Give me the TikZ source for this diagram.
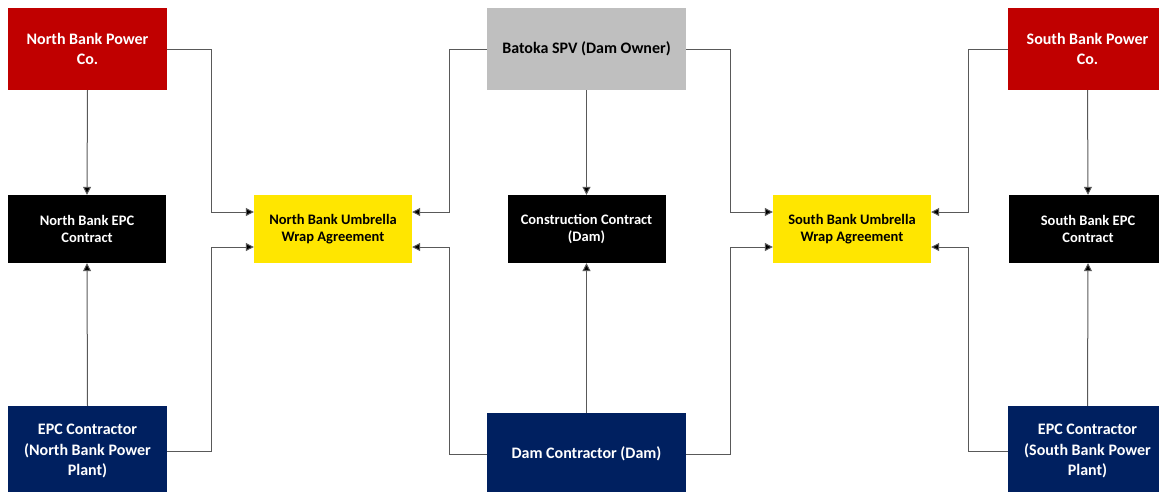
\documentclass[tikz,border=0pt]{standalone}
\usepackage{fontspec}
\setmainfont{Carlito}
\usetikzlibrary{arrows.meta,calc}
\definecolor{cred}{HTML}{C00000}
\definecolor{cgray}{HTML}{BFBFBF}
\definecolor{cyellow}{HTML}{FFE600}
\definecolor{cnavy}{HTML}{002060}
\definecolor{cline}{HTML}{595959}
\tikzset{
  box/.style={rectangle, inner sep=0pt, align=center, font=\bfseries\fontsize{16}{20.5}\selectfont},
  midbox/.style={rectangle, inner sep=0pt, align=center, minimum width=158, minimum height=68, font=\bfseries\fontsize{14.5}{17}\selectfont},
  redbox/.style={box, fill=cred, text=white, minimum width=159, minimum height=82},
  graybox/.style={box, fill=cgray, text=black, minimum width=199, minimum height=82},
  blackbox/.style={midbox, fill=black, text=white},
  yellowbox/.style={midbox, fill=cyellow, text=black},
  navybox/.style={box, fill=cnavy, text=white},
  conn/.style={draw=cline, line width=1pt},
  arr/.style={conn, -{Triangle[length=8pt,width=8pt,fill=black]}}
}
\begin{document}
\begin{tikzpicture}[x=1pt,y=-1pt]
\useasboundingbox (0,0) rectangle (1159,491);
\clip (0,0) rectangle (1159,491);
% top row
\node[redbox] (nbpc) at (87.5,49) {North Bank Power\\Co.};
\node[graybox] (spv) at (586.5,49) {Batoka SPV (Dam Owner)};
\node[redbox] (sbpc) at (1087.5,49) {South Bank Power\\Co.};
% middle row
\node[blackbox] (nbepc) at (87,229) {North Bank EPC\\Contract};
\node[yellowbox] (nbu) at (333,229) {North Bank Umbrella\\Wrap Agreement};
\node[blackbox] (cc) at (586.5,229) {Construction Contract\\(Dam)};
\node[yellowbox] (sbu) at (852,229) {South Bank Umbrella\\Wrap Agreement};
\node[blackbox] (sbepc) at (1088,229) {South Bank EPC\\Contract};
% bottom row
\node[navybox, minimum width=159, minimum height=90] (nbc) at (87.5,451) {EPC Contractor\\(North Bank Power\\Plant)};
\node[navybox, minimum width=199, minimum height=82] (dc) at (586.5,454) {Dam Contractor (Dam)};
\node[navybox, minimum width=159, minimum height=90] (sbc) at (1087.5,451) {EPC Contractor\\(South Bank Power\\Plant)};
% vertical connectors
\draw[arr] (nbpc.south) -- (nbepc.north);
\draw[arr] (nbc.north) -- (nbepc.south);
\draw[arr] (spv.south) -- (cc.north);
\draw[arr] (dc.north) -- (cc.south);
\draw[arr] (sbpc.south) -- (sbepc.north);
\draw[arr] (sbc.north) -- (sbepc.south);
% umbrella connectors
\draw[arr] (nbpc.east) -- ++(44,0) |- ($(nbu.west)+(0,-17)$);
\draw[arr] (nbc.east) -- ++(44,0) |- ($(nbu.west)+(0,18)$);
\draw[arr] (spv.west) -- ++(-37,0) |- ($(nbu.east)+(0,-17)$);
\draw[arr] (dc.west) -- ++(-37,0) |- ($(nbu.east)+(0,18)$);
\draw[arr] (spv.east) -- ++(44,0) |- ($(sbu.west)+(0,-17)$);
\draw[arr] (dc.east) -- ++(44,0) |- ($(sbu.west)+(0,18)$);
\draw[arr] (sbpc.west) -- ++(-39,0) |- ($(sbu.east)+(0,-17)$);
\draw[arr] (sbc.west) -- ++(-39,0) |- ($(sbu.east)+(0,18)$);
\end{tikzpicture}
\end{document}
